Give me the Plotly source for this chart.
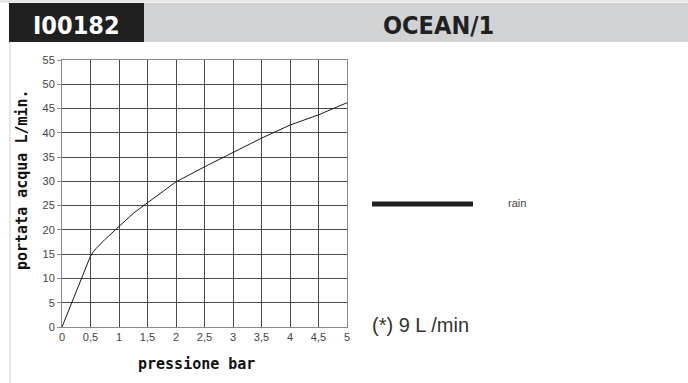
import plotly.graph_objects as go

WIDTH = 688
HEIGHT = 383

# plot area in pixels
LEFT = 62
RIGHT = 347
TOP = 60
BOTTOM = 327

CODE = "I00182"
MODEL = "OCEAN/1"
X_TITLE = "pressione bar"
Y_TITLE = "portata acqua L/min."
LEGEND_NAME = "rain"
NOTE = "(*) 9 L /min"

pressure = [0, 0.25, 0.5, 0.55, 0.6, 0.75, 1, 1.25, 1.5, 2, 2.5, 3, 3.5, 4, 4.5, 5]
flow = [0, 7.3, 14.6, 15.5, 16.2, 18.0, 20.7, 23.4, 25.6, 29.9, 33.0, 35.9, 38.9, 41.6, 43.7, 46.2]

x_ticks = [0, 0.5, 1, 1.5, 2, 2.5, 3, 3.5, 4, 4.5, 5]
x_tick_labels = ["0", "0,5", "1", "1,5", "2", "2,5", "3", "3,5", "4", "4,5", "5"]
y_ticks = [0, 5, 10, 15, 20, 25, 30, 35, 40, 45, 50, 55]

DARK = "#202020"
HEADER_GREY = "#d1d2d4"
EDGE_GREY = "#e6e6e6"
GRID_COLOR = "#4a4a4a"
TICK_FONT = dict(family="Liberation Sans, Arial", size=11, color="#444444")
HEAD_FONT = "DejaVu Sans Condensed, DejaVu Sans"
TITLE_FONT = dict(family="DejaVu Sans Mono", size=15, color="#111111")


def px(x):
    return (x - LEFT) / (RIGHT - LEFT)


def py(y):
    return (BOTTOM - y) / (BOTTOM - TOP)


def label(text, x, y, font, **kw):
    return dict(text=text, xref="paper", yref="paper", x=px(x), y=py(y),
                xanchor=kw.pop("xanchor", "center"), yanchor="middle",
                showarrow=False, font=font, **kw)


fig = go.Figure()

fig.add_trace(
    go.Scatter(
        x=pressure,
        y=flow,
        mode="lines",
        line=dict(color="#1a1a1a", width=1),
        showlegend=False,
        hoverinfo="skip",
    )
)

shapes = [
    # top thin line
    dict(type="rect", xref="paper", yref="paper", x0=px(0), x1=px(WIDTH), y0=py(0), y1=py(2.5),
         fillcolor=EDGE_GREY, line_width=0, layer="below"),
    # dark code box
    dict(type="rect", xref="paper", yref="paper", x0=px(9), x1=px(144), y0=py(3), y1=py(42),
         fillcolor=DARK, line_width=0, layer="below"),
    # grey model box
    dict(type="rect", xref="paper", yref="paper", x0=px(144), x1=px(WIDTH), y0=py(3), y1=py(42),
         fillcolor=HEADER_GREY, line_width=0, layer="below"),
    # left edge line
    dict(type="rect", xref="paper", yref="paper", x0=px(9), x1=px(11), y0=py(42), y1=py(HEIGHT),
         fillcolor=EDGE_GREY, line_width=0, layer="below"),
    # legend swatch
    dict(type="line", xref="paper", yref="paper", x0=px(372), x1=px(473), y0=py(204), y1=py(204),
         line=dict(color=DARK, width=5)),
]

annotations = [
    label("<b>" + CODE + "</b>", 76, 26, dict(family=HEAD_FONT, size=25, color="white")),
    label("<b>" + MODEL + "</b>", 439, 26, dict(family=HEAD_FONT, size=25, color=DARK)),
    label(LEGEND_NAME, 506, 203, dict(family="Liberation Sans, Arial", size=11, color="#444444"),
          xanchor="left"),
    label(NOTE, 370, 325, dict(family="Liberation Sans, Arial", size=20, color="#333333"),
          xanchor="left"),
    label("<b>" + X_TITLE + "</b>", 196, 364, TITLE_FONT),
    label("<b>" + Y_TITLE + "</b>", 22, 180, TITLE_FONT, textangle=-90),
]

fig.update_xaxes(
    range=[0, 5],
    tickvals=x_ticks,
    ticktext=x_tick_labels,
    showgrid=True,
    gridcolor=GRID_COLOR,
    gridwidth=1,
    zeroline=False,
    showline=True,
    linecolor="#8a8a8a",
    mirror=True,
    ticks="",
    tickfont=TICK_FONT,
)
fig.update_yaxes(
    range=[0, 55],
    tickvals=y_ticks,
    showgrid=True,
    gridcolor=GRID_COLOR,
    gridwidth=1,
    zeroline=False,
    showline=True,
    linecolor="#8a8a8a",
    mirror=True,
    ticks="outside",
    ticklen=4,
    tickcolor="#8a8a8a",
    tickfont=TICK_FONT,
)

fig.update_layout(
    width=WIDTH,
    height=HEIGHT,
    margin=dict(l=LEFT, r=WIDTH - RIGHT, t=TOP, b=HEIGHT - BOTTOM, pad=0),
    paper_bgcolor="white",
    plot_bgcolor="white",
    shapes=shapes,
    annotations=annotations,
    showlegend=False,
)

fig.write_html(
    "out.html",
    config={"displayModeBar": False},
    post_script="document.body.style.margin='0';document.body.style.overflow='hidden';",
)
